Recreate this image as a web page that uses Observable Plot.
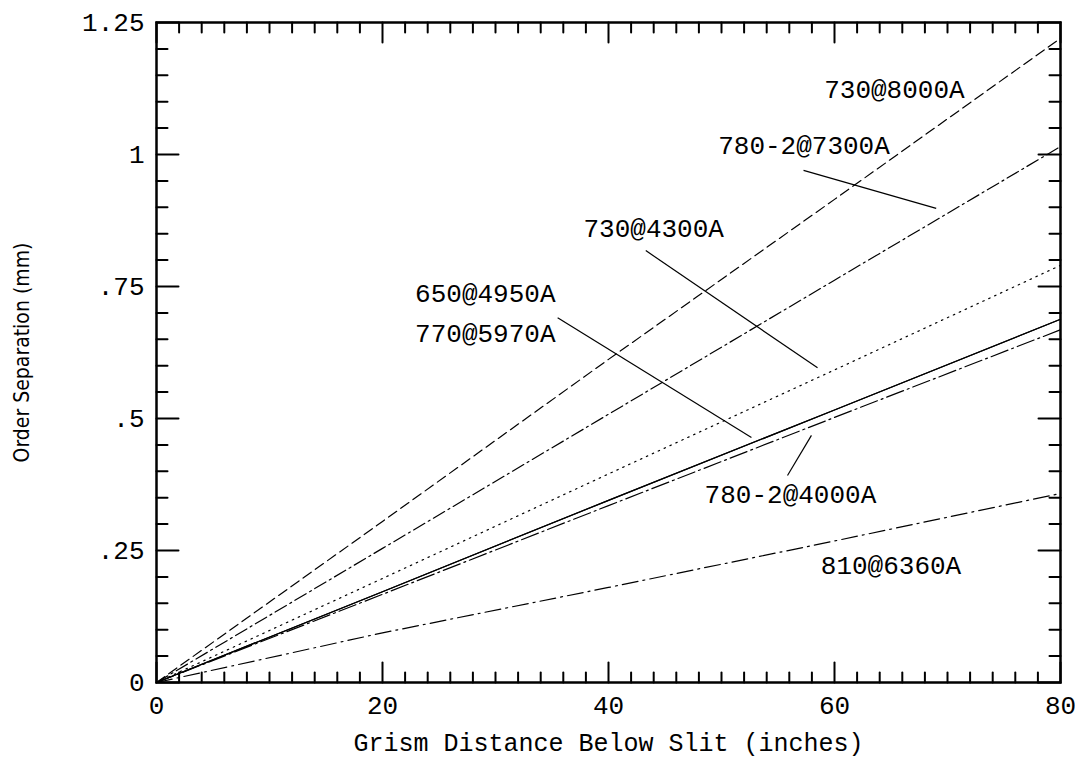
<!DOCTYPE html>
<html><head><meta charset="utf-8">
<script src="https://cdn.jsdelivr.net/npm/d3@7"></script>
<script src="https://cdn.jsdelivr.net/npm/@observablehq/plot@0.6"></script>
<style>body{margin:0;background:#fff}</style>
</head><body><div id="chart"></div>
<script>
// Grism distance below slit (inches)
const distance = [0, 20, 40, 60, 80];
// Order separation (mm) per grism setting
const sep730at8000 = [0, 0.305, 0.612, 0.915, 1.220];
const sep780at7300 = [0, 0.254, 0.508, 0.762, 1.015];
const sep730at4300 = [0, 0.197, 0.395, 0.592, 0.790];
const sep650at4950 = [0, 0.172, 0.345, 0.516, 0.688];
const sep770at5970 = [0, 0.172, 0.345, 0.516, 0.688];
const sep780at4000 = [0, 0.167, 0.335, 0.502, 0.668];
const sep810at6360 = [0, 0.094, 0.180, 0.268, 0.358];

const seriesNames = ["730@8000A", "780-2@7300A", "730@4300A", "650@4950A", "770@5970A", "780-2@4000A", "810@6360A"];
const seriesValues = [sep730at8000, sep780at7300, sep730at4300, sep650at4950, sep770at5970, sep780at4000, sep810at6360];
const seriesDash = ["10,5", "13,4,2,4", "1.5,5", null, null, "18,4,2,4", "16,5,2,5"];

// Annotation labels (data coordinates) and leader lines
const labelText = ["730@8000A", "780-2@7300A", "730@4300A", "650@4950A", "770@5970A", "780-2@4000A", "810@6360A"];
const labelX = [65.3, 57.3, 44.0, 29.1, 29.1, 56.1, 65.0];
const labelY = [1.123, 1.017, 0.860, 0.737, 0.661, 0.356, 0.222];
const leaderX1 = [57.26, 43.3, 35.5, 57.96];
const leaderY1 = [0.970, 0.818, 0.691, 0.468];
const leaderX2 = [69.0, 58.5, 52.65, 55.84];
const leaderY2 = [0.898, 0.596, 0.464, 0.392];

// Ticks
const xMajor = [0, 20, 40, 60, 80];
const xMinor = d3.range(0, 41).map(i => i * 2).filter(v => v % 20 !== 0);
const yMajor = [0, 0.25, 0.5, 0.75, 1, 1.25];
const yMinor = d3.range(0, 26).filter(i => i % 5 !== 0).map(i => i * 0.05);

const xTitle = "Grism Distance Below Slit (inches)";
const yTitle = "Order Separation (mm)";

const table = seriesNames.map((name, i) => distance.map((x, j) => ({name, x, y: seriesValues[i][j]})));
const labels = labelText.map((t, i) => ({t, x: labelX[i], y: labelY[i]}));
const leaders = leaderX1.map((_, i) => ({x1: leaderX1[i], y1: leaderY1[i], x2: leaderX2[i], y2: leaderY2[i]}));

const tickShape = {draw(context, l) { context.moveTo(0, 0); context.lineTo(0, -l); }};
const font = "'Liberation Mono', 'DejaVu Sans Mono', monospace";

function ticks(values, axis, length) {
  if (axis === "x") return [
    Plot.vector(values, {x: d => d, y: 0, length, rotate: 0, anchor: "start", shape: tickShape, stroke: "black", strokeWidth: 2}),
    Plot.vector(values, {x: d => d, y: 1.25, length, rotate: 180, anchor: "start", shape: tickShape, stroke: "black", strokeWidth: 2})
  ];
  return [
    Plot.vector(values, {x: 0, y: d => d, length, rotate: 90, anchor: "start", shape: tickShape, stroke: "black", strokeWidth: 2}),
    Plot.vector(values, {x: 80, y: d => d, length, rotate: -90, anchor: "start", shape: tickShape, stroke: "black", strokeWidth: 2})
  ];
}

const chart = Plot.plot({
  width: 1075, height: 757,
  marginLeft: 156, marginRight: 15, marginTop: 22, marginBottom: 75,
  x: {domain: [0, 80]},
  y: {domain: [0, 1.25]},
  style: {fontFamily: font, background: "white", color: "black"},
  marks: [
    ...table.map((rows, i) => Plot.line(rows, {x: "x", y: "y", stroke: "black", strokeWidth: 1.2, strokeDasharray: seriesDash[i]})),
    Plot.link(leaders, {x1: "x1", y1: "y1", x2: "x2", y2: "y2", stroke: "black", strokeWidth: 1.2}),
    Plot.text(labels, {x: "x", y: "y", text: "t", fontSize: 26, fontFamily: font, fill: "black", textAnchor: "middle", lineAnchor: "middle"}),
    ...ticks(xMinor, "x", 10),
    ...ticks(xMajor, "x", 20),
    ...ticks(yMinor, "y", 11),
    ...ticks(yMajor, "y", 22),
    Plot.frame({stroke: "black", strokeWidth: 2.5}),
    Plot.axisX(xMajor, {tickSize: 0, tickPadding: 13, fontSize: 26, fontFamily: font, label: null}),
    Plot.axisY(yMajor, {tickSize: 0, tickPadding: 12, fontSize: 26, fontFamily: font, label: null,
      tickFormat: d => d === 0 ? "0" : String(d).replace(/^0/, "")}),
    Plot.text([xTitle], {frameAnchor: "bottom", dy: 60, fontSize: 25, fontFamily: font, fill: "black", textAnchor: "middle", lineAnchor: "middle"}),
    Plot.text([yTitle], {frameAnchor: "left", dx: -134, rotate: -90, fontSize: 21, fontFamily: "'DejaVu Sans Condensed', 'DejaVu Sans', sans-serif", fill: "black", textAnchor: "middle", lineAnchor: "middle"})
  ]
});
document.getElementById("chart").appendChild(chart);
</script>
</body></html>
